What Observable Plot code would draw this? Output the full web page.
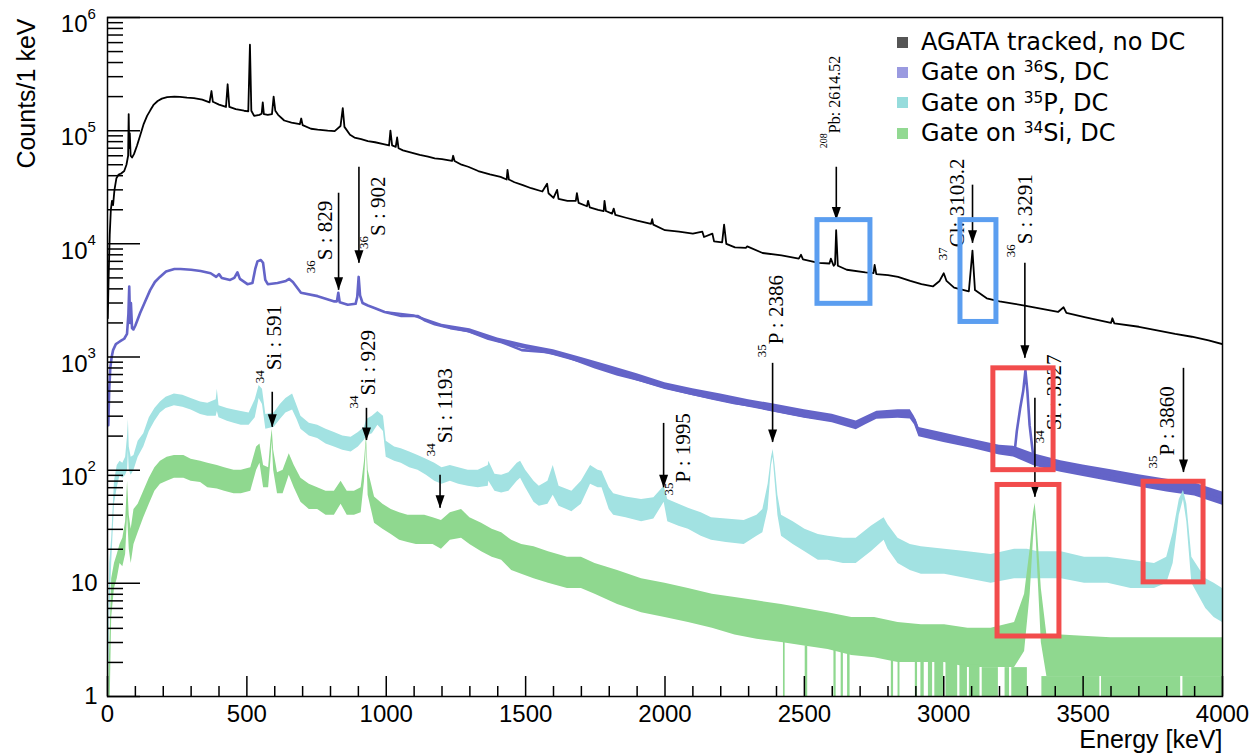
<!DOCTYPE html>
<html>
<head>
<meta charset="utf-8">
<script src="https://cdn.jsdelivr.net/npm/d3@7"></script>
<script src="https://cdn.jsdelivr.net/npm/@observablehq/plot@0.6"></script>
<style>
  body { margin: 0; background: #fff; }
  #chart { position: relative; width: 1251px; height: 754px; }
  #legend { position: absolute; left: 897px; top: 27px; font-family: "DejaVu Sans", sans-serif; font-size: 24px; color: #000; }
  #legend .row { height: 30.3px; display: flex; align-items: center; white-space: nowrap; }
  #legend .sw { width: 11px; height: 11px; margin-right: 13px; flex: none; }
  #legend sup { font-size: 0.64em; vertical-align: 0.5em; line-height: 0; }
</style>
</head>
<body>
<div id="chart"><div id="legend"></div></div>
<script>
// ---- Spectra (energy in keV, counts per 1 keV bin) ----
const agataE = [1,4,8,12,16,20,25,32,40,50,60,68,74,76,78,80,83,88,95,106,118,130,142,154,166,180,195,214,240,260,285,310,340,366,373,378,400,425,431,437,460,490,505,511,516,526,545,553,557,561,575,590,596,602,612,634,660,690,695,700,730,754,790,815,836,844,850,870,886,910,934,960,990,1010,1015,1021,1034,1039,1044,1060,1090,1120,1150,1174,1200,1236,1240,1245,1270,1294,1330,1372,1410,1432,1435,1440,1460,1490,1520,1560,1577,1582,1600,1613,1618,1650,1680,1684,1690,1720,1724,1730,1760,1780,1783,1788,1810,1816,1822,1860,1900,1950,1954,1958,2000,2050,2100,2134,2140,2170,2176,2205,2212,2220,2251,2290,2295,2350,2418,2480,2488,2495,2550,2590,2595,2605,2610,2614,2620,2652,2719,2748,2752,2758,2800,2836,2880,2920,2961,2985,3000,3010,3037,3090,3103,3112,3154,3200,3254,3290,3338,3410,3430,3440,3505,3600,3605,3612,3700,3756,3830,3890,3950,4000];
const agataV = [2200,5000,12000,20000,24000,22000,30000,38000,41000,42000,44000,50000,60000,140000,70000,95000,60000,58000,62000,74000,92000,115000,135000,152000,170000,183000,192000,198000,200000,199000,196000,194000,188000,178000,224000,180000,170000,162000,257000,162000,155000,150000,148000,575000,150000,135000,138000,141000,178000,140000,138000,140000,200000,150000,138000,123000,118000,114000,128000,112000,104000,102000,100000,99000,110000,158000,108000,92000,87000,84000,81000,79000,76000,74000,100000,74000,72000,87000,70000,67000,64000,61000,59000,57000,56000,54000,60000,54000,50000,48000,44000,41000,39000,37000,45000,37000,35000,33000,31000,29000,34000,28000,25500,30000,25000,24000,24000,28000,23000,21500,24000,21000,20000,19500,24000,19500,18500,20500,18000,17000,16000,15000,16500,14800,13200,12800,12300,12800,11500,12300,10500,10300,14800,10000,9300,9200,9500,8300,7900,7400,8000,7300,6800,6700,7400,6400,6600,13200,6400,5900,5600,5500,6500,5400,5300,5100,4700,4400,4200,4700,5500,4700,4100,3800,8700,3900,3300,3100,2950,2850,2700,2500,2750,2450,2250,2000,2200,1980,1850,1740,1600,1510,1400,1300];

const s36E = [3,6,10,15,20,30,40,50,60,70,75,78,81,84,88,93,100,117,135,153,170,188,210,240,262,300,334,370,390,400,410,440,455,466,475,502,520,530,538,550,558,566,575,610,640,652,665,694,754,814,823,828,833,862,890,896,901,906,915,934,960,994,1054,1080,1114,1140,1174,1230,1294,1366,1415,1486,1582,1650,1749,1830,1916,2000,2084,2170,2251,2320,2385,2440,2502,2585,2640,2686,2720,2752,2800,2836,2878,2895,2911,3003,3087,3170,3237,3255,3262,3274,3285,3293,3300,3308,3320,3338,3422,3500,3589,3670,3756,3840,3923,4000];
const s36V = [250,500,800,1000,1150,1300,1350,1400,1450,1600,2400,4200,2000,3000,1800,1750,1900,2450,3100,3900,4600,5100,5700,6000,6000,5900,5750,5500,5100,5400,5000,4800,5000,5600,4900,4400,4500,6000,7000,7200,6800,4800,4400,4500,4700,4900,4600,3700,3450,3100,3100,3700,3050,2900,2950,3400,5100,3500,3000,2850,2700,2500,2300,2300,2300,2100,1950,1800,1700,1450,1350,1150,1100,1000,810,700,620,540,480,430,390,370,340,320,300,280,265,245,270,300,310,310,310,280,215,195,170,150,145,150,220,350,500,760,500,250,140,120,107,98,89,79,71,66,63,54];
// 36S gate above 1 MeV: lower / upper edge of the fluctuation
const s36BandE = [1000,1100,1200,1300,1400,1500,1600,1700,1800,1900,2000,2100,2200,2300,2400,2500,2600,2686,2720,2760,2836,2880,2895,2911,3000,3100,3200,3250,3330,3420,3500,3600,3700,3800,3900,4000];
const s36Lo = [2440,2250,1830,1620,1340,1170,1030,880,740,615,515,455,405,360,322,288,262,228,252,282,288,283,252,197,176,156,136,131,108,96,88,79,71,64,59,49];
const s36Hi = [2520,2360,1950,1780,1470,1290,1160,990,840,712,592,525,470,420,380,342,312,272,298,332,342,342,298,238,213,188,166,163,138,121,111,101,91,83,77,64];

// 35P gate: lower / upper edge of the fluctuating band
const p35E = [3,8,15,25,35,45,55,65,72,75,78,85,95,110,130,150,170,190,210,240,270,300,334,360,390,394,400,430,454,480,508,530,544,556,568,598,620,640,664,680,694,724,754,784,814,844,874,900,922,930,950,970,990,1000,1030,1054,1084,1114,1144,1174,1200,1230,1260,1294,1330,1366,1368,1390,1414,1440,1470,1482,1500,1530,1549,1580,1599,1620,1666,1700,1733,1760,1774,1800,1816,1860,1916,1960,1997,2010,2050,2084,2130,2167,2220,2284,2330,2351,2370,2382,2388,2395,2405,2418,2460,2502,2550,2585,2640,2686,2740,2786,2800,2836,2880,2920,3003,3087,3170,3254,3300,3338,3422,3505,3589,3672,3756,3800,3823,3845,3860,3872,3890,3940,3970,4000];
const p35Lo = [1,5,15,50,70,90,85,90,100,150,100,90,100,130,160,220,270,320,350,370,360,340,310,300,300,330,290,270,260,250,250,290,430,380,230,240,280,320,340,280,230,200,190,170,160,150,145,160,185,200,210,250,220,130,120,115,105,100,90,80,75,80,75,72,70,72,80,65,63,65,80,85,70,52,48,50,60,48,43,50,75,70,70,45,40,38,35,37,52,35,32,30,26,24,23,22,26,28,45,110,130,80,40,26,22,19,16,16,15,15,19,24,20,15,13,12,12,11,10,11,11,11,11,10,10,9,9,10,15,40,55,35,10,6,5,4.5];
const p35Hi = [2,15,25,80,110,120,115,130,200,280,160,130,135,180,210,290,350,400,440,470,460,430,400,390,420,520,370,350,340,330,320,420,560,520,310,320,380,430,470,370,300,260,250,230,215,200,195,215,240,280,300,330,300,180,160,155,145,135,125,115,105,110,105,100,100,110,120,92,90,95,115,120,100,80,72,80,110,72,65,80,110,100,98,70,62,58,55,57,72,55,50,46,42,38,37,36,40,45,75,130,152,110,60,40,35,30,27,26,25,25,32,38,33,25,22,21,20,19,18,20,20,19,19,17,17,16,15,17,28,55,66,50,17,11,10,9];

// 34Si gate: lower / upper edge of the fluctuating band
const si34E = [5,10,15,25,35,45,55,65,72,78,85,95,110,130,150,170,190,214,240,274,300,334,360,394,420,454,480,514,535,547,560,578,586,591,596,610,630,652,670,694,724,754,784,814,838,860,886,910,922,929,935,958,988,1018,1048,1078,1108,1138,1168,1198,1230,1270,1300,1342,1380,1414,1450,1486,1530,1582,1650,1700,1749,1830,1916,2000,2084,2170,2251,2330,2418,2500,2585,2670,2752,2836,2920,3003,3087,3170,3254,3290,3310,3322,3328,3336,3350,3370,3422,3500,3600,3700,3800,3900,4000];
const si34Lo = [1,1,5,9,11,15,14,18,40,20,15,22,28,38,50,65,75,80,85,85,80,78,70,68,65,62,62,65,100,115,70,70,120,180,100,62,62,90,70,52,45,45,40,40,50,40,40,42,80,170,60,34,30,27,24,23,22,22,22,20,24,25,22,19,17,16,13,12,11,10,9,9,8,6.5,5.5,5,4.5,4,3.5,3.2,3,2.8,2.6,2.3,2.2,2,2,2,1.8,1.8,1.8,2.5,8,25,40,15,3,1.5,1.5,1.5,1.5,1.5,1.5,1.5,1.5];
const si34Hi = [1.5,4,11,15,18,22,25,35,80,40,30,45,50,65,85,105,120,130,135,135,125,120,115,110,105,100,100,105,160,170,110,105,180,230,150,95,100,140,110,85,75,70,65,65,80,65,65,70,120,200,100,58,50,45,42,40,40,40,38,36,42,45,38,34,30,28,24,22,21,19,17,17,15,13,11,10,9,8,7.5,7,6.5,6,5.5,5,5,4.5,4.3,4.3,4,4,4.5,8,20,42,51,30,9,3.5,3.5,3.4,3.3,3.3,3.3,3.3,3.3];
// 34Si gate: stretches of empty bins, drawn down to the floor of the axis
const siEmptyE1 = [2425,2503,2606,2632,2655,2812,2836,2898,2918,2945,2968,3008,3058,3092,3138,3220,3244,3352,3566,3858];
const siEmptyE2 = [2431,2512,2614,2640,2664,2820,2843,2906,2930,2960,3000,3050,3085,3130,3196,3236,3300,3560,3850,4000];
const siEmptyTop = [3.0,2.8,2.6,2.5,2.4,2.1,2.0,2.0,2.0,2.0,2.0,2.0,1.9,1.9,1.8,1.8,1.8,1.5,1.5,1.5];

// ---- Axis ticks ----
const xMajor = [0, 500, 1000, 1500, 2000, 2500, 3000, 3500, 4000];
const xMinor = d3.range(100, 4000, 100).filter(d => d % 500 !== 0);
const yMajor = [1, 10, 100, 1e3, 1e4, 1e5, 1e6];
const yMajorBase = ["1", "10", "10", "10", "10", "10", "10"];
const yMajorExp = ["", "", "2", "3", "4", "5", "6"];
const yMinor = [1, 10, 100, 1e3, 1e4, 1e5].flatMap(p => d3.range(2, 10).map(k => k * p));

// ---- Line identifications ----
const lineE    = [829, 902, 591, 929, 1193, 1995, 2386, 2614.52, 3103.2, 3291, 3327, 3860];
const lineMass = ["36", "36", "34", "34", "34", "35", "35", "208", "37", "36", "34", "35"];
const lineSym  = ["S : 829", "S : 902", "Si : 591", "Si : 929", "Si : 1193", "P : 1995", "P : 2386", "Pb: 2614.52", "Cl: 3103.2", "S : 3291", "Si : 3327", "P : 3860"];
const arrowTop = [28000, 47500, 488, 352, 90, 259, 879, 47500, 33000, 6750, 432, 794];
const arrowTip = [3890, 6750, 239, 183, 46, 70, 176, 16200, 10100, 973, 57.5, 95.5];
const labelE   = [806, 996, 623, 960, 1237, 2091, 2425, 2629, 3071, 3318, 3419, 3825];
const labelAt  = [7160, 11750, 762, 458, 173, 78, 1294, 95000, 9330, 9900, 225, 135];
const labelPt  = [21, 21, 21, 21, 21, 21, 21, 16, 21, 21, 21, 21];

// ---- Highlight boxes ----
const boxE1 = [2547, 3060, 3178, 3193, 3717];
const boxE2 = [2737, 3189, 3394, 3415, 3932];
const boxLo = [2950, 2040, 100, 3.39, 10.2];
const boxHi = [16200, 16200, 794, 74, 79];
const boxColor = ["#5b9ef0", "#5b9ef0", "#f24c4c", "#f24c4c", "#f24c4c"];

// ---- Legend ----
const legendLabel = ["AGATA tracked, no DC", "Gate on <sup>36</sup>S, DC", "Gate on <sup>35</sup>P, DC", "Gate on <sup>34</sup>Si, DC"];
const legendSwatch = ["#555555", "#9a9ae0", "#96dcdc", "#92d992"];

const colAgata = "#000000", colS = "#6464c8", colP = "#a2e2e2", colSi = "#8fd88f";

// ---- Build tables ----
const series = (E, V) => E.map((e, i) => ({e, v: V[i]}));
const band = (E, lo, hi) => E.map((e, i) => ({e, lo: lo[i], hi: hi[i]}));
const agata = series(agataE, agataV);
const s36 = series(s36E, s36V);
const s36Band = band(s36BandE, s36Lo, s36Hi);
const p35 = band(p35E, p35Lo, p35Hi);
const si34 = band(si34E, si34Lo, si34Hi);
const siEmpty = siEmptyE1.map((e1, i) => ({e1, e2: siEmptyE2[i], top: siEmptyTop[i]}));
const yTicks = yMajor.map((v, i) => ({v, base: yMajorBase[i], exp: yMajorExp[i]}));
const lines = lineE.map((e, i) => ({e, mass: lineMass[i], sym: lineSym[i], top: arrowTop[i], tip: arrowTip[i], le: labelE[i], at: labelAt[i], pt: labelPt[i]}));
const boxes = boxE1.map((e1, i) => ({e1, e2: boxE2[i], lo: boxLo[i], hi: boxHi[i], c: boxColor[i]}));

const W = 1251, H = 754, mL = 107, mR = 29, mT = 17, mB = 58;
const innerW = W - mL - mR, innerH = H - mT - mB;

// filled, downward pointing arrowhead with its tip at the anchor
const headDown = {draw(ctx) { ctx.moveTo(0, 0); ctx.lineTo(-4.5, -13); ctx.lineTo(4.5, -13); ctx.closePath(); }};

const sans = "Liberation Sans, Arial, sans-serif";
const serif = "Liberation Serif, Times New Roman, serif";

const textMarks = [];
for (const pt of [...new Set(labelPt)]) {
  const sub = lines.filter(d => d.pt === pt);
  textMarks.push(
    Plot.text(sub, {x: "le", y: "at", text: "sym", rotate: -90, textAnchor: "start", lineAnchor: "bottom", fontSize: pt, fontFamily: serif, fill: "#000"}),
    Plot.text(sub, {x: "le", y: "at", text: "mass", rotate: -90, textAnchor: "end", lineAnchor: "bottom", dx: -Math.round(pt * 0.8), fontSize: Math.round(pt * 0.62), fontFamily: serif, fill: "#000"})
  );
}

const chart = Plot.plot({
  width: W, height: H,
  marginLeft: mL, marginRight: mR, marginTop: mT, marginBottom: mB,
  style: {fontFamily: sans, background: "#fff", overflow: "visible"},
  x: {domain: [0, 4000], axis: null},
  y: {type: "log", domain: [1, 1e6], axis: null},
  marks: [
    // spectra
    Plot.line(agata, {x: "e", y: "v", stroke: colAgata, strokeWidth: 1.8, clip: true}),
    Plot.areaY(s36Band, {x: "e", y1: "lo", y2: "hi", fill: colS, clip: true}),
    Plot.line(s36, {x: "e", y: "v", stroke: colS, strokeWidth: 2.6, clip: true}),
    Plot.areaY(p35, {x: "e", y1: "lo", y2: "hi", fill: colP, clip: true}),
    Plot.areaY(si34, {x: "e", y1: "lo", y2: "hi", fill: colSi, clip: true}),
    Plot.rect(siEmpty, {x1: "e1", x2: "e2", y1: 1, y2: "top", fill: colSi, clip: true}),
    // frame and inward ticks
    Plot.frame({stroke: "#000", strokeWidth: 1.5}),
    Plot.tickY(yMajor, {y: d => d, insetRight: innerW - 33, stroke: "#000", strokeWidth: 1.5}),
    Plot.tickY(yMinor, {y: d => d, insetRight: innerW - 16, stroke: "#000", strokeWidth: 1.5}),
    Plot.tickX(xMajor, {x: d => d, insetTop: innerH - 20, stroke: "#000", strokeWidth: 1.5}),
    Plot.tickX(xMinor, {x: d => d, insetTop: innerH - 10, stroke: "#000", strokeWidth: 1.5}),
    // tick labels
    Plot.text(xMajor, {x: d => d, text: d => String(d), frameAnchor: "bottom", dy: 18, lineAnchor: "middle", fontSize: 24, fill: "#000"}),
    Plot.text(yTicks.filter(d => d.exp === ""), {y: "v", text: "base", frameAnchor: "left", dx: -10, textAnchor: "end", lineAnchor: "middle", fontSize: 24, fill: "#000"}),
    Plot.text(yTicks.filter(d => d.exp !== ""), {y: "v", text: "base", frameAnchor: "left", dx: -20, dy: 7, textAnchor: "end", lineAnchor: "middle", fontSize: 24, fill: "#000"}),
    Plot.text(yTicks.filter(d => d.exp !== ""), {y: "v", text: "exp", frameAnchor: "left", dx: -20, dy: 1, textAnchor: "start", lineAnchor: "bottom", fontSize: 15, fill: "#000"}),
    // axis titles
    Plot.text(["Energy [keV]"], {frameAnchor: "bottom-right", dy: 43, textAnchor: "end", lineAnchor: "middle", fontSize: 25, fill: "#000"}),
    Plot.text(["Counts/1 keV"], {frameAnchor: "top-left", dx: -73, dy: 1, rotate: -90, textAnchor: "end", lineAnchor: "bottom", fontSize: 25, fill: "#000"}),
    // line identifications
    Plot.ruleX(lines, {x: "e", y1: "top", y2: "tip", stroke: "#000", strokeWidth: 1.6}),
    Plot.dot(lines, {x: "e", y: "tip", symbol: headDown, r: 5, fill: "#000", stroke: null}),
    ...textMarks,
    // highlight boxes
    Plot.rect(boxes, {x1: "e1", x2: "e2", y1: "lo", y2: "hi", fill: null, stroke: "c", strokeWidth: 5})
  ]
});

document.getElementById("chart").prepend(chart);
document.getElementById("legend").innerHTML = legendLabel.map((t, i) =>
  `<div class="row"><span class="sw" style="background:${legendSwatch[i]}"></span><span>${t}</span></div>`).join("");
</script>
</body>
</html>
